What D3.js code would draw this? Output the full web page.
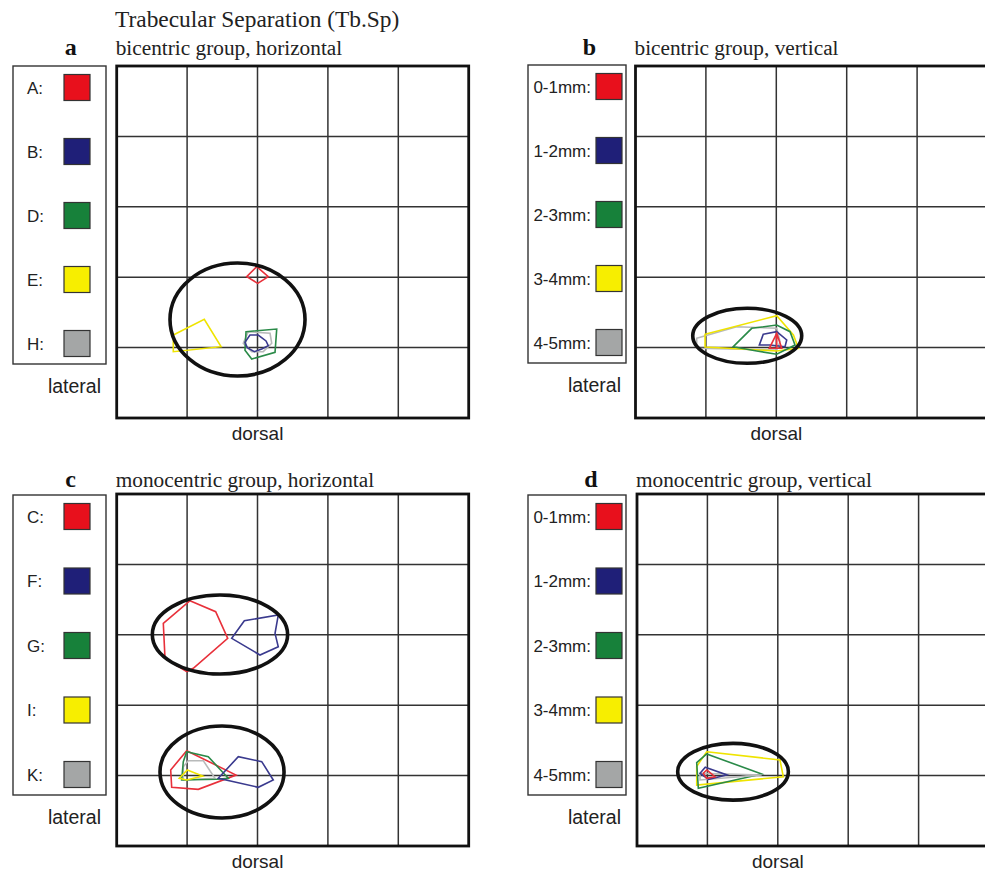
<!DOCTYPE html>
<html>
<head>
<meta charset="utf-8">
<script src="https://cdn.jsdelivr.net/npm/d3@7"></script>
<style>
  html, body { margin: 0; padding: 0; background: #fff; }
  svg { display: block; }
</style>
</head>
<body>
<svg id="chart" width="985" height="872"></svg>
<script>
// ---------- DATA (grid units: x 0..5 left→right, y 0..5 bottom→top) ----------
const chartTitle = "Trabecular Separation (Tb.Sp)";
const panelLetters = ["a", "b", "c", "d"];
const panelTitles = ["bicentric group, horizontal", "bicentric group, vertical",
                     "monocentric group, horizontal", "monocentric group, vertical"];
const legendLabelsA = ["A:", "B:", "D:", "E:", "H:"];
const legendLabelsC = ["C:", "F:", "G:", "I:", "K:"];
const legendLabelsDepth = ["0-1mm:", "1-2mm:", "2-3mm:", "3-4mm:", "4-5mm:"];
const seriesColors = ["#e8101c", "#1f1f78", "#17813a", "#f7ee00", "#a4a6a6"];
const lineColors   = ["#e8303a", "#3a3a8e", "#2a8a48", "#efe400", "#b8baba"];
const gridTicks = [0, 1, 2, 3, 4, 5];
const sideLabel = "lateral";
const bottomLabel = "dorsal";

// Panel a — bicentric, horizontal
const aRed    = [[1.989,2.149],[2.153,2.007],[2.003,1.913],[1.847,2.007]];
const aNavy   = [[1.893,1.179],[2.010,1.179],[2.121,1.094],[2.153,1.027],[2.060,0.980],[1.955,0.942],[1.855,0.999],[1.822,1.075]];
const aGreen  = [[1.837,1.226],[2.273,1.264],[2.249,0.933],[1.918,0.838],[1.822,0.961]];
const aYellow = [[0.804,1.179],[1.244,1.402],[1.482,1.013],[0.804,0.942]];
const aGray   = [[1.869,1.226],[2.178,1.203],[2.202,1.061],[2.082,0.942],[1.918,0.942],[1.798,1.061]];
const aEllipses = [[1.716,1.399,0.959,0.803]];

// Panel b — bicentric, vertical
const bRed    = [[2.006,1.203],[2.077,0.990],[2.006,0.990],[2.006,1.203],[2.006,0.990],[1.901,0.990]];
const bNavy   = [[1.815,1.189],[2.006,1.226],[2.148,1.108],[2.124,1.013],[1.911,1.037],[1.759,1.037]];
const bGreen  = [[1.389,1.013],[1.651,1.274],[2.006,1.321],[2.195,1.226],[2.266,1.037],[2.006,0.905],[1.722,0.952]];
const bYellow = [[0.988,1.189],[2.006,1.453],[2.243,1.179],[2.314,0.990],[2.006,0.952],[0.988,1.009]];
const bGray   = [[0.869,1.132],[1.437,1.297],[2.006,1.274],[2.053,1.084],[2.006,0.966],[0.869,0.990]];
const bEllipses = [[1.587,1.168,0.774,0.391]];

// Panel c — monocentric, horizontal
const cRed1   = [[1.041,3.484],[1.406,3.328],[1.577,2.950],[1.088,2.524],[0.994,2.476],[0.686,2.666],[0.662,3.163]];
const cNavy1  = [[1.634,2.950],[1.813,3.200],[2.295,3.281],[2.249,3.021],[2.295,2.831],[2.035,2.713]];
const cRed2   = [[0.994,1.354],[1.695,1.008],[1.159,0.805],[0.781,0.834],[0.767,1.080]];
const cGreen2 = [[0.994,1.340],[1.301,1.268],[1.585,0.962],[1.420,0.948],[0.923,0.938],[0.946,1.198]];
const cGray2  = [[1.017,1.212],[1.230,1.212],[1.396,0.962],[0.946,0.938],[0.946,1.126]];
const cYellow2= [[1.003,1.080],[1.222,0.994],[0.994,0.938],[0.889,0.962]];
const cNavy2  = [[1.443,0.962],[1.727,1.268],[2.060,1.198],[2.224,0.938],[2.011,0.834]];
const cEllipses = [[1.467,3.004,0.961,0.561],[1.496,1.051,0.881,0.653]];

// Panel d — monocentric, vertical
const dRed    = [[0.990,1.080],[1.108,0.984],[0.990,0.961],[0.942,1.033]];
const dNavy   = [[0.970,1.118],[1.278,1.009],[1.017,0.947],[0.895,1.033]];
const dGreen  = [[0.990,1.307],[1.771,1.023],[0.871,0.820],[0.848,1.183]];
const dYellow = [[0.990,1.339],[2.031,1.222],[2.078,0.984],[0.848,0.866],[0.848,1.130]];
const dGray   = [[0.895,1.033],[1.771,1.009],[0.895,0.938]];
const dEllipses = [[1.364,1.055,0.786,0.403]];

// ---------- LAYOUT ----------
const svg = d3.select("#chart");
const SIZE = 352;
const panels = [
  { letter: panelLetters[0], title: panelTitles[0], left: 116.7, top: 66, headY: 55, legend: legendLabelsA,
    shapes: [[aGray,4],[aYellow,3],[aGreen,2],[aNavy,1],[aRed,0]], ellipses: aEllipses,
    legX: 13, legW: 93, legTop: 66, legBottom: 364, swX: 64, labX: 27, anchor: "start" },
  { letter: panelLetters[1], title: panelTitles[1], left: 635.5, top: 66, headY: 55, legend: legendLabelsDepth,
    shapes: [[bGray,4],[bYellow,3],[bGreen,2],[bNavy,1],[bRed,0]], ellipses: bEllipses,
    legX: 528, legW: 98, legTop: 65, legBottom: 363, swX: 596, labX: 591, anchor: "end" },
  { letter: panelLetters[2], title: panelTitles[2], left: 116.7, top: 494, headY: 487, legend: legendLabelsC,
    shapes: [[cRed1,0],[cNavy1,1],[cRed2,0],[cGray2,4],[cGreen2,2],[cYellow2,3],[cNavy2,1]], ellipses: cEllipses,
    legX: 13, legW: 93, legTop: 495, legBottom: 795, swX: 64, labX: 27, anchor: "start" },
  { letter: panelLetters[3], title: panelTitles[3], left: 637, top: 494, headY: 487, legend: legendLabelsDepth,
    shapes: [[dYellow,3],[dGreen,2],[dGray,4],[dNavy,1],[dRed,0]], ellipses: dEllipses,
    legX: 528, legW: 98, legTop: 495, legBottom: 795, swX: 596, labX: 591, anchor: "end" }
];

const serif = "'Liberation Serif', 'Times New Roman', serif";
const sans = "'Liberation Sans', Arial, sans-serif";

svg.append("text").attr("x", 115).attr("y", 27)
  .attr("font-family", serif).attr("font-size", 23.4).attr("fill", "#222")
  .text(chartTitle);

panels.forEach(p => {
  const x = d3.scaleLinear().domain([0, 5]).range([p.left, p.left + SIZE]);
  const y = d3.scaleLinear().domain([0, 5]).range([p.top + SIZE, p.top]);
  const g = svg.append("g");

  // headings
  g.append("text").attr("x", p.left - 46).attr("y", p.headY)
    .attr("text-anchor", "middle").attr("font-family", serif).attr("font-weight", "bold")
    .attr("font-size", 24).attr("fill", "#111").text(p.letter);
  g.append("text").attr("x", p.left - 1).attr("y", p.headY)
    .attr("font-family", serif).attr("font-size", 21.3).attr("fill", "#222").text(p.title);

  // grid lines
  const inner = gridTicks.slice(1, -1);
  g.selectAll("line.v").data(inner).join("line")
    .attr("x1", d => x(d)).attr("x2", d => x(d)).attr("y1", y(5)).attr("y2", y(0))
    .attr("stroke", "#333").attr("stroke-width", 1.5);
  g.selectAll("line.h").data(inner).join("line")
    .attr("y1", d => y(d)).attr("y2", d => y(d)).attr("x1", x(0)).attr("x2", x(5))
    .attr("stroke", "#333").attr("stroke-width", 1.5);
  g.append("rect").attr("x", x(0)).attr("y", y(5)).attr("width", x(5) - x(0)).attr("height", y(0) - y(5))
    .attr("fill", "none").attr("stroke", "#111").attr("stroke-width", 2.8);

  // polygons
  const line = d3.line().x(d => x(d[0])).y(d => y(d[1])).curve(d3.curveLinearClosed);
  p.shapes.forEach(([pts, ci]) => {
    g.append("path").attr("d", line(pts)).attr("fill", "none")
      .attr("stroke", lineColors[ci]).attr("stroke-width", 1.6).attr("stroke-linejoin", "miter");
  });

  // ellipses
  p.ellipses.forEach(e => {
    g.append("ellipse").attr("cx", x(e[0])).attr("cy", y(e[1]))
      .attr("rx", x(e[2]) - x(0)).attr("ry", y(0) - y(e[3]))
      .attr("fill", "none").attr("stroke", "#111").attr("stroke-width", 3.6);
  });

  // legend
  g.append("rect").attr("x", p.legX).attr("y", p.legTop).attr("width", p.legW)
    .attr("height", p.legBottom - p.legTop).attr("fill", "none")
    .attr("stroke", "#333").attr("stroke-width", 1.4);
  const rowY = d3.scaleLinear().domain([0, 4]).range([p.legTop + 21.5, p.legBottom - 20.5]);
  p.legend.forEach((lab, i) => {
    g.append("rect").attr("x", p.swX).attr("y", rowY(i) - 13).attr("width", 26).attr("height", 26)
      .attr("fill", seriesColors[i]).attr("stroke", "#333").attr("stroke-width", 1.2);
    g.append("text").attr("x", p.labX).attr("y", rowY(i) + 6).attr("text-anchor", p.anchor)
      .attr("font-family", sans).attr("font-size", 17).attr("fill", "#222").text(lab);
  });

  // side labels
  g.append("text").attr("x", p.legX + p.legW - 5).attr("y", p.legBottom + 29)
    .attr("text-anchor", "end").attr("font-family", sans).attr("font-size", 19.5)
    .attr("fill", "#222").text(sideLabel);
  g.append("text").attr("x", x(2)).attr("y", y(0) + 22)
    .attr("text-anchor", "middle").attr("font-family", sans).attr("font-size", 19)
    .attr("fill", "#222").text(bottomLabel);
});
</script>
</body>
</html>
